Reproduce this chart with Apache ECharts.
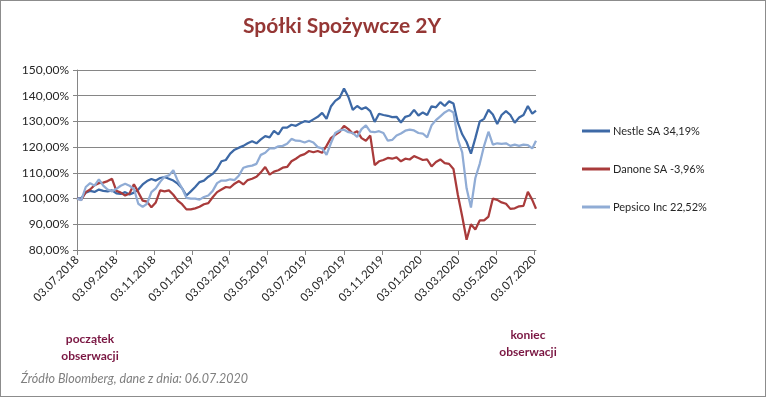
<!DOCTYPE html>
<html>
<head>
<meta charset="utf-8">
<script src="https://cdn.jsdelivr.net/npm/echarts@6/dist/echarts.min.js"></script>
<style>
  html, body { margin: 0; padding: 0; background: #fff; }
  #chart { width: 766px; height: 397px; box-sizing: border-box; border: 1px solid #8c8c8c; }
</style>
</head>
<body>
<div id="chart"></div>
<script>
// weekly samples, from 03.07.2018, plus the last day 06.07.2020
const startDate = [2018, 6, 3];
const lastDate = [2020, 6, 6];

const nestle = [
  100, 100.2, 102.3, 103.0, 102.6, 103.5, 103.0, 102.8, 103.2, 102.0, 101.8, 102.5, 101.6, 102.3,
  103.5, 105.5, 106.8, 107.6, 107.0, 108.0, 108.4, 107.7, 107.0, 105.8, 104.0, 101.2, 102.8,
  104.5, 106.4, 107, 108.5, 109.6, 111.5, 114.5, 115, 117.5, 119, 119.8, 120.5, 121.5, 122.3,
  121.5, 123, 124.3, 123.8, 126.3, 125, 127.6, 127.6, 128.7, 128.3, 129.3, 130.1,
  129.8, 130.8, 131.8, 133.3, 131, 135.8, 138, 139.2, 142.8, 139.5, 134.5, 136, 134.8, 135.5,
  134, 129.8, 133, 132.5, 132.2, 131.7, 131.8, 129.6, 131.8, 132.3, 134.5, 132.3, 133.5,
  132.5, 135.9, 135.5, 137.5, 136, 137.8, 137, 129.5, 125, 122, 117.5, 123.5, 130, 131,
  134.5, 132.7, 129, 132.5, 134, 132.5, 129.5, 131.5, 132.5, 136, 133,
  134.19
];

const danone = [
  100, 99.6, 102.5, 103.5, 105.2, 106, 106.2, 106.8, 107.7, 103, 102.3, 101.2, 102.0, 105.6,
  102.5, 99.2, 98.8, 96.6, 98.5, 103.2, 102.8, 103.2, 101.5, 99.2, 97.8, 95.8, 95.8,
  96.2, 96.8, 97.8, 98.2, 100.5, 102.5, 103.5, 104.5, 104.3, 105.8, 106.8, 105.5, 107.2, 107.7,
  108.5, 110.2, 112.3, 109.3, 110.5, 111, 112, 112.3, 114.5, 115.5, 116.7, 117.3,
  118.5, 118, 118.5, 117.8, 120.5, 123.5, 124.8, 126, 128.3, 127, 125.3, 126.2, 123.5, 122.5,
  124.5, 113, 114.5, 115, 115.8, 115.5, 116, 114.5, 115.5, 115.2, 116.5, 115.8, 115,
  115.2, 112.5, 114.2, 115.2, 113.8, 113.5, 111.5, 101.5, 93, 84, 90, 88, 91.5, 91.5,
  93, 100, 99.5, 98.5, 98, 96, 96.2, 97, 97.2, 102.6, 99.5,
  96.04
];

const pepsico = [
  100, 99.4, 104.5, 106, 105, 107.5, 105, 103.5, 102.8, 103.8, 105, 105.8, 105, 103.8,
  98, 96.8, 98, 102.5, 104, 106.5, 108.5, 109, 111, 107, 104, 100.3, 100,
  100, 99.6, 100.6, 101.2, 103.0, 106.0, 107, 107, 107.5, 107.2, 109, 112, 112.5, 112.8,
  113.5, 117, 117.8, 119.5, 119.5, 120.3, 120.5, 121.3, 123.2, 122.5, 122.4, 121.8,
  122.5, 121.8, 120, 119.5, 117, 121.5, 125.5, 126.5, 126.8, 125.8, 125.5, 124, 127, 128.5,
  126, 125.8, 126.2, 125.5, 122.5, 122.8, 124.5, 125.3, 126.4, 126.8, 126.5, 125.5, 125.3,
  123.8, 128.5, 130.5, 132, 133.5, 134.5, 133.5, 123, 118, 104, 96.5, 108, 113.5, 120.5,
  126, 121, 121.5, 121.3, 121.5, 120.5, 121, 120.5, 121, 120.8, 119.5,
  122.52
];

const seriesNames = ['Nestle SA 34,19%', 'Danone SA -3,96%', 'Pepsico Inc 22,52%'];
const tickLabels = [
  '03.07.2018', '03.09.2018', '03.11.2018', '03.01.2019', '03.03.2019', '03.05.2019', '03.07.2019',
  '03.09.2019', '03.11.2019', '03.01.2020', '03.03.2020', '03.05.2020', '03.07.2020'
];

function parseLabel(s) {
  const p = s.split('.');
  return new Date(+p[2], +p[1] - 1, +p[0]).getTime();
}
function pad(n) { return (n < 10 ? '0' : '') + n; }
function fmtDate(t) {
  const d = new Date(t);
  return pad(d.getDate()) + '.' + pad(d.getMonth() + 1) + '.' + d.getFullYear();
}

// weekly dates matching the value arrays
const dates = [];
for (let i = 0; i < nestle.length - 1; i++) {
  dates.push(new Date(startDate[0], startDate[1], startDate[2] + 7 * i).getTime());
}
dates.push(new Date(lastDate[0], lastDate[1], lastDate[2]).getTime());

function pairs(vals) { return vals.map((v, i) => [dates[i], v]); }

const tickValues = tickLabels.map(parseLabel);
const axisGray = '#868686';
const font = 'Lato, "Liberation Sans", sans-serif';
const noteColor = '#7a1642';

function note(text, x, y) {
  return { type: 'text', x: x, y: y, style: { text: text, fill: noteColor, font: 'bold 12px ' + font, align: 'center', verticalAlign: 'middle' } };
}

const chart = echarts.init(document.getElementById('chart'));
chart.setOption({
  animation: false,
  title: {
    text: 'Spółki Spożywcze 2Y',
    left: 336, top: 10, textAlign: 'center',
    textStyle: { color: '#953735', fontSize: 21, fontWeight: 'bold', fontFamily: font }
  },
  grid: { left: 76, right: 229, top: 69, bottom: 146 },
  legend: {
    orient: 'vertical', left: 576, top: 118,
    icon: 'rect', itemWidth: 28, itemHeight: 3, itemGap: 24,
    textStyle: { fontSize: 11, color: '#262626', fontFamily: font, lineHeight: 14, padding: [0, 0, 0, -2] },
    data: seriesNames
  },
  xAxis: {
    type: 'value',
    min: tickValues[0],
    max: dates[dates.length - 1],
    splitLine: { show: false },
    axisLine: { lineStyle: { color: axisGray } },
    axisTick: { show: true, length: 5, customValues: tickValues, lineStyle: { color: axisGray } },
    axisLabel: {
      customValues: tickValues, rotate: 45, margin: 8,
      color: '#262626', fontSize: 11.5, fontFamily: font,
      formatter: v => fmtDate(v)
    }
  },
  yAxis: {
    type: 'value', min: 80, max: 150, interval: 10,
    axisLine: { show: true, lineStyle: { color: axisGray } },
    axisTick: { show: true, length: 4, lineStyle: { color: axisGray } },
    splitLine: { lineStyle: { color: axisGray } },
    axisLabel: {
      color: '#262626', fontSize: 12, fontFamily: font, margin: 8,
      formatter: v => v.toFixed(2).replace('.', ',') + '%'
    }
  },
  series: [
    { name: seriesNames[0], type: 'line', data: pairs(nestle), symbol: 'none', lineStyle: { width: 2.25, color: '#3d69a6' }, itemStyle: { color: '#3d69a6' } },
    { name: seriesNames[1], type: 'line', data: pairs(danone), symbol: 'none', lineStyle: { width: 2.25, color: '#a93b3b' }, itemStyle: { color: '#a93b3b' } },
    { name: seriesNames[2], type: 'line', data: pairs(pepsico), symbol: 'none', lineStyle: { width: 2.25, color: '#90acd5' }, itemStyle: { color: '#90acd5' } }
  ],
  graphic: [
    note('początek', 89, 338),
    note('obserwacji', 89, 355),
    note('koniec', 527, 334),
    note('obserwacji', 527, 351),
    { type: 'text', left: 20, top: 371, style: { text: 'Źródło Bloomberg, dane z dnia: 06.07.2020', fill: '#7f7f7f', font: 'italic 12.5px ' + font } }
  ]
});
</script>
</body>
</html>
